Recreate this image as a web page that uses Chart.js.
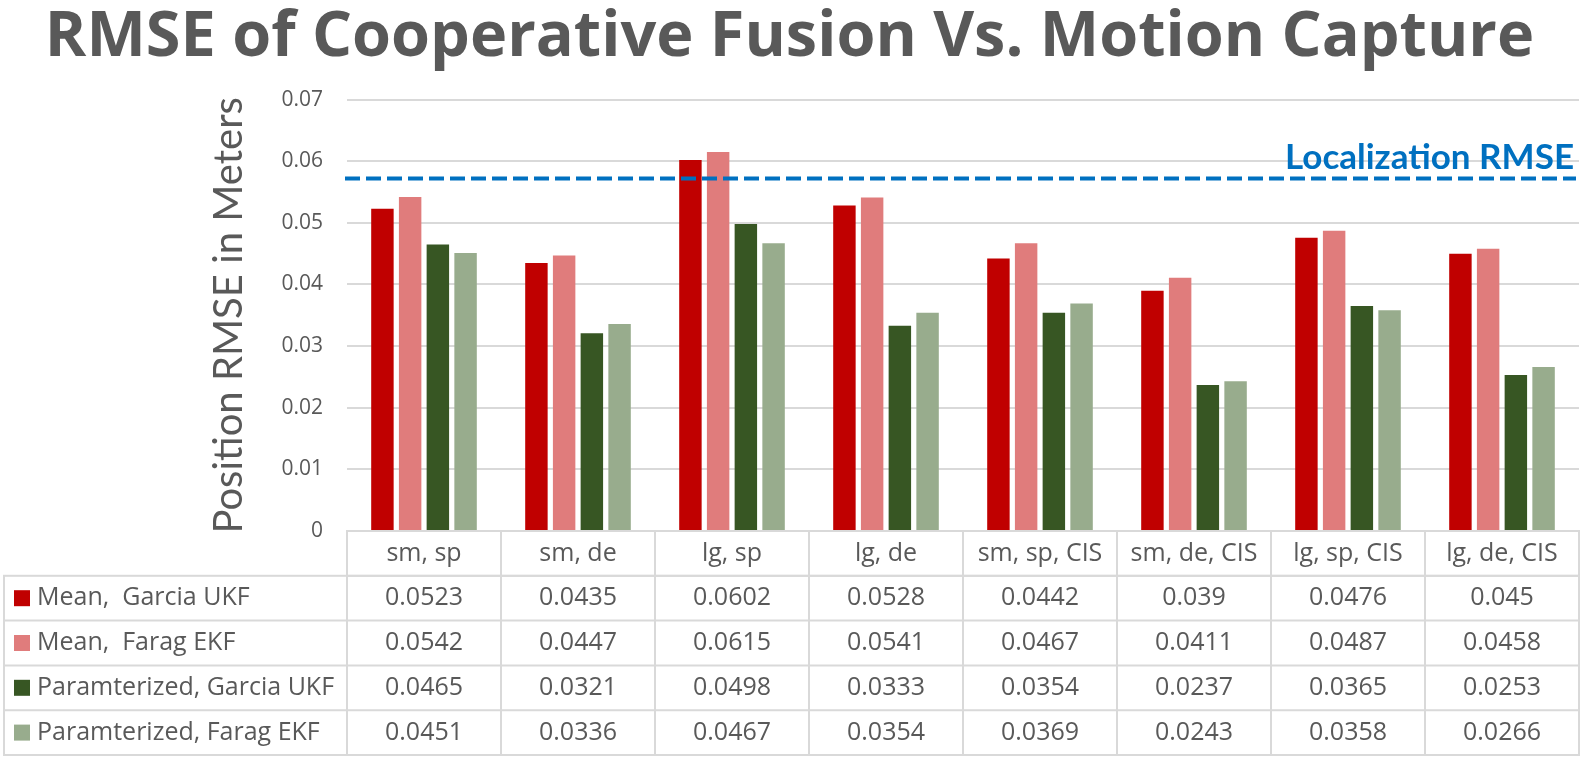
<!DOCTYPE html>
<html>
<head>
<meta charset="utf-8">
<title>RMSE of Cooperative Fusion Vs. Motion Capture</title>
<script src="https://cdn.jsdelivr.net/npm/chart.js@4/dist/chart.umd.min.js"></script>
<style>
  html, body { margin: 0; padding: 0; background: #fff; }
  #wrap { position: relative; width: 1582px; height: 759px; }
</style>
</head>
<body>
<div id="wrap"><canvas id="rmseChart"></canvas></div>
<script>
const categories = [
  "sm, sp", "sm, de", "lg, sp", "lg, de",
  "sm, sp, CIS", "sm, de, CIS", "lg, sp, CIS", "lg, de, CIS"
];

const seriesNames = [
  "Mean,  Garcia UKF", "Mean,  Farag EKF",
  "Paramterized, Garcia UKF", "Paramterized, Farag EKF"
];
const meanGarcia = [0.0523, 0.0435, 0.0602, 0.0528, 0.0442, 0.039, 0.0476, 0.045];
const meanFarag = [0.0542, 0.0447, 0.0615, 0.0541, 0.0467, 0.0411, 0.0487, 0.0458];
const paramGarcia = [0.0465, 0.0321, 0.0498, 0.0333, 0.0354, 0.0237, 0.0365, 0.0253];
const paramFarag = [0.0451, 0.0336, 0.0467, 0.0354, 0.0369, 0.0243, 0.0358, 0.0266];

const yMin = 0;
const yMax = 0.07;
const yStep = 0.01;
const localizationRmse = 0.0572;
const localizationLabel = "Localization RMSE";

const warna = ['#C00000', '#E07C7C', '#375623', '#98AC8D'];
const abu = '#595959';
const garis = '#D9D9D9';
const huruf = 'Lato, "Open Sans", sans-serif';
const hurufTabel = '"Open Sans", Lato, sans-serif';

// garis putus-putus + label localization
const localizationLine = {
  id: 'localizationLine',
  afterDatasetsDraw(chart) {
    const ctx = chart.ctx;
    const y = chart.scales.y.getPixelForValue(localizationRmse);
    const area = chart.chartArea;
    ctx.save();
    ctx.strokeStyle = '#0070C0';
    ctx.lineWidth = 4;
    ctx.setLineDash([15, 6]);
    ctx.beginPath();
    ctx.moveTo(area.left - 2, y);
    ctx.lineTo(area.right - 3, y);
    ctx.stroke();
    ctx.setLineDash([]);
    ctx.fillStyle = '#0070C0';
    ctx.font = 'bold 35px ' + huruf;
    ctx.textAlign = 'right';
    ctx.textBaseline = 'alphabetic';
    ctx.fillText(localizationLabel, area.right - 5, y - 9);
    ctx.restore();
  }
};

// tabel data di bawah grafik
const dataTable = {
  id: 'dataTable',
  afterDraw(chart) {
    const ctx = chart.ctx;
    const xs = chart.scales.x;
    const area = chart.chartArea;
    const colW = xs.width / categories.length;
    const rowH = 44.8;
    const top = area.bottom;
    const tableLeft = 4;
    const rows = [meanGarcia, meanFarag, paramGarcia, paramFarag];

    ctx.save();
    ctx.strokeStyle = garis;
    ctx.lineWidth = 2;

    // header
    ctx.strokeRect(xs.left, top, colW * categories.length, rowH);
    ctx.strokeRect(tableLeft, top + rowH, xs.left - tableLeft + colW * categories.length, rowH * rows.length);
    for (let r = 1; r < rows.length; r++) {
      ctx.beginPath();
      ctx.moveTo(tableLeft, top + rowH * (r + 1));
      ctx.lineTo(xs.right, top + rowH * (r + 1));
      ctx.stroke();
    }
    for (let i = 0; i < categories.length; i++) {
      const x = xs.getPixelForValue(i) - colW / 2;
      ctx.beginPath();
      ctx.moveTo(x, top);
      ctx.lineTo(x, top + rowH * (rows.length + 1));
      ctx.stroke();
    }

    ctx.fillStyle = abu;
    ctx.font = '25px ' + hurufTabel;
    ctx.textAlign = 'center';
    ctx.textBaseline = 'middle';
    categories.forEach((c, i) => {
      ctx.fillText(c, xs.getPixelForValue(i), top + rowH / 2);
    });

    rows.forEach((vals, r) => {
      const cy = top + rowH * (r + 1) + rowH / 2;
      ctx.fillStyle = warna[r];
      ctx.fillRect(14, cy - 8, 16, 16);
      ctx.fillStyle = abu;
      ctx.textAlign = 'left';
      ctx.fillText(seriesNames[r], 37, cy);
      ctx.textAlign = 'center';
      vals.forEach((v, i) => {
        ctx.fillText(String(v), xs.getPixelForValue(i), cy);
      });
    });
    ctx.restore();
  }
};

const series = [meanGarcia, meanFarag, paramGarcia, paramFarag];

new Chart(document.getElementById('rmseChart'), {
  type: 'bar',
  data: {
    labels: categories,
    datasets: series.map((d, i) => ({
      label: seriesNames[i],
      data: d,
      backgroundColor: warna[i],
      borderWidth: 0,
      categoryPercentage: 0.72,
      barPercentage: 0.81
    }))
  },
  options: {
    responsive: true,
    maintainAspectRatio: false,
    animation: false,
    layout: { padding: { left: 0, right: 3, top: 0, bottom: 228 } },
    plugins: {
      legend: { display: false },
      tooltip: { enabled: false },
      title: {
        display: true,
        text: 'RMSE of Cooperative Fusion Vs. Motion Capture',
        color: abu,
        font: { family: hurufTabel, size: 63, weight: 'bold' },
        padding: { top: 0, bottom: 24 }
      }
    },
    scales: {
      x: { display: false },
      y: {
        min: yMin,
        max: yMax,
        border: { display: false },
        grid: { color: garis, lineWidth: 2, drawTicks: false },
        ticks: {
          stepSize: yStep,
          padding: 24,
          color: abu,
          font: { family: hurufTabel, size: 21 },
          callback: v => String(+v.toFixed(2))
        },
        title: {
          display: true,
          text: 'Position RMSE in Meters',
          color: abu,
          font: { family: huruf, size: 40 },
          padding: { top: 205, bottom: 0 }
        },
        afterFit(scale) { scale.width = 347; }
      }
    }
  },
  plugins: [localizationLine, dataTable]
});
</script>
</body>
</html>
